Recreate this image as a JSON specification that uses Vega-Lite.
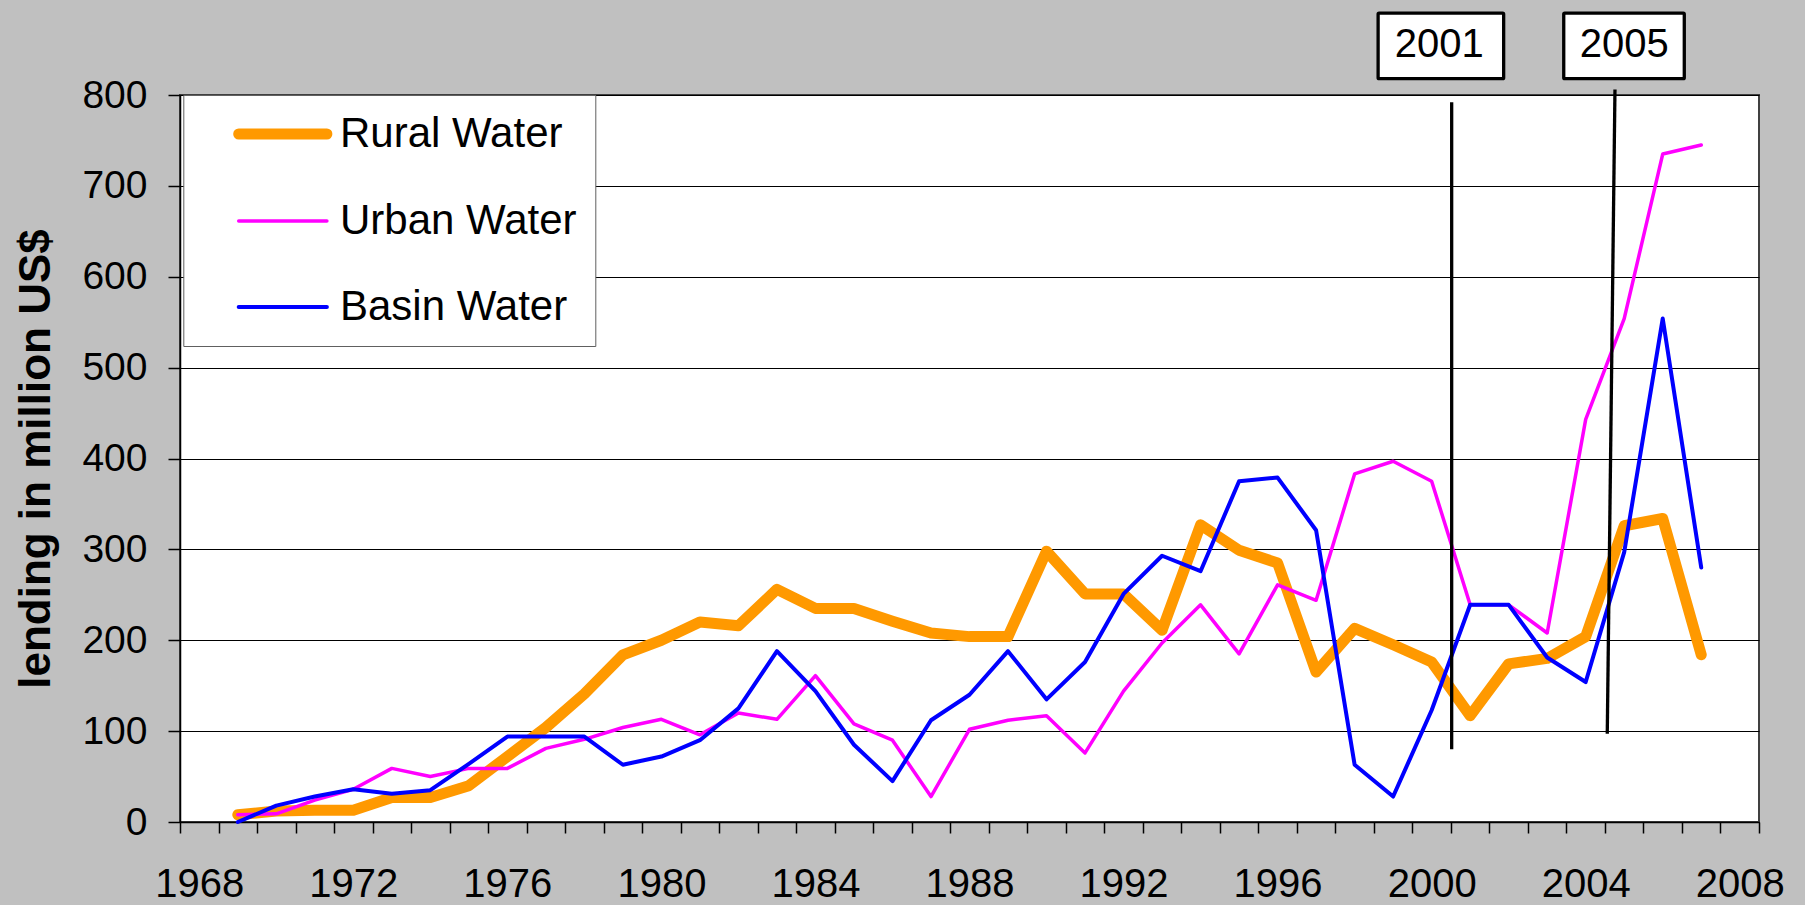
{
  "$schema": "https://vega.github.io/schema/vega-lite/v6.json",
  "width": 1579,
  "height": 727,
  "autosize": {"type": "none"},
  "padding": {"left": 180, "top": 95, "right": 46, "bottom": 83},
  "background": "#C0C0C0",
  "config": {
    "font": "Liberation Sans",
    "view": {"fill": "#FFFFFF", "stroke": "#404040", "strokeWidth": 2},
    "axis": {"labelColor": "#000000", "domainColor": "#000000", "tickColor": "#000000", "titleColor": "#000000"}
  },
  "datasets": {
    "lending": [
      {"year": 1969, "Rural Water": 8, "Urban Water": 8, "Basin Water": 0},
      {"year": 1970, "Rural Water": 12, "Urban Water": 9, "Basin Water": 18},
      {"year": 1971, "Rural Water": 13, "Urban Water": 24, "Basin Water": 28},
      {"year": 1972, "Rural Water": 13, "Urban Water": 36, "Basin Water": 36},
      {"year": 1973, "Rural Water": 27, "Urban Water": 59, "Basin Water": 31},
      {"year": 1974, "Rural Water": 27, "Urban Water": 50, "Basin Water": 35},
      {"year": 1975, "Rural Water": 40, "Urban Water": 59, "Basin Water": 64},
      {"year": 1976, "Rural Water": 72, "Urban Water": 59, "Basin Water": 94},
      {"year": 1977, "Rural Water": 104, "Urban Water": 81, "Basin Water": 94},
      {"year": 1978, "Rural Water": 141, "Urban Water": 91, "Basin Water": 94},
      {"year": 1979, "Rural Water": 184, "Urban Water": 104, "Basin Water": 63},
      {"year": 1980, "Rural Water": 200, "Urban Water": 113, "Basin Water": 72},
      {"year": 1981, "Rural Water": 220, "Urban Water": 96, "Basin Water": 90},
      {"year": 1982, "Rural Water": 216, "Urban Water": 120, "Basin Water": 125},
      {"year": 1983, "Rural Water": 256, "Urban Water": 113, "Basin Water": 188},
      {"year": 1984, "Rural Water": 235, "Urban Water": 161, "Basin Water": 144},
      {"year": 1985, "Rural Water": 235, "Urban Water": 108, "Basin Water": 85},
      {"year": 1986, "Rural Water": 221, "Urban Water": 90, "Basin Water": 45},
      {"year": 1987, "Rural Water": 208, "Urban Water": 28, "Basin Water": 112},
      {"year": 1988, "Rural Water": 204, "Urban Water": 102, "Basin Water": 140},
      {"year": 1989, "Rural Water": 204, "Urban Water": 112, "Basin Water": 188},
      {"year": 1990, "Rural Water": 298, "Urban Water": 117, "Basin Water": 135},
      {"year": 1991, "Rural Water": 251, "Urban Water": 76, "Basin Water": 176},
      {"year": 1992, "Rural Water": 251, "Urban Water": 144, "Basin Water": 251},
      {"year": 1993, "Rural Water": 211, "Urban Water": 197, "Basin Water": 293},
      {"year": 1994, "Rural Water": 327, "Urban Water": 239, "Basin Water": 276},
      {"year": 1995, "Rural Water": 299, "Urban Water": 185, "Basin Water": 375},
      {"year": 1996, "Rural Water": 285, "Urban Water": 261, "Basin Water": 379},
      {"year": 1997, "Rural Water": 165, "Urban Water": 244, "Basin Water": 321},
      {"year": 1998, "Rural Water": 213, "Urban Water": 383, "Basin Water": 63},
      {"year": 1999, "Rural Water": 195, "Urban Water": 397, "Basin Water": 28},
      {"year": 2000, "Rural Water": 176, "Urban Water": 375, "Basin Water": 123},
      {"year": 2001, "Rural Water": 117, "Urban Water": 239, "Basin Water": 239},
      {"year": 2002, "Rural Water": 174, "Urban Water": 239, "Basin Water": 239},
      {"year": 2003, "Rural Water": 180, "Urban Water": 208, "Basin Water": 181},
      {"year": 2004, "Rural Water": 204, "Urban Water": 443, "Basin Water": 154},
      {"year": 2005, "Rural Water": 326, "Urban Water": 554, "Basin Water": 297},
      {"year": 2006, "Rural Water": 334, "Urban Water": 735, "Basin Water": 554},
      {"year": 2007, "Rural Water": 184, "Urban Water": 745, "Basin Water": 280}
    ],
    "markers": [
      {"label": "2001", "year": 2000.52, "value": 80, "year2": 2000.52, "value2": 792},
      {"label": "2005", "year": 2004.56, "value": 97, "year2": 2004.76, "value2": 806}
    ],
    "boxes": [
      {"label": "2001", "year": 1998.61, "year2": 2001.87, "value": 818, "value2": 890},
      {"label": "2005", "year": 2003.43, "year2": 2006.56, "value": 818, "value2": 890}
    ],
    "boxlabels": [
      {"label": "2001", "year": 2000.2, "value": 855},
      {"label": "2005", "year": 2005.0, "value": 855}
    ]
  },
  "encoding": {
    "y": {
      "field": "value",
      "type": "quantitative",
      "scale": {"domain": [0, 800], "nice": false},
      "axis": {
        "title": "lending in million US$",
        "values": [0, 100, 200, 300, 400, 500, 600, 700, 800],
        "titleFont": "Liberation Sans",
        "titleFontWeight": "bold",
        "titleFontSize": 44,
        "titleAngle": -90,
        "titleAlign": "center",
        "titleBaseline": "middle",
        "titleX": -144,
        "titleY": 363.5,
        "labelFont": "Liberation Sans",
        "labelFontSize": 39,
        "labelPadding": 21,
        "tickSize": 12,
        "tickWidth": 1.5,
        "domainWidth": 1.5,
        "grid": true,
        "gridColor": "#000000",
        "gridWidth": 1
      }
    }
  },
  "layer": [
    {
      "data": {"name": "lending"},
      "transform": [{"fold": ["Rural Water", "Urban Water", "Basin Water"], "as": ["series", "value"]}],
      "mark": {"type": "line", "strokeCap": "round", "strokeJoin": "round"},
      "encoding": {
        "x": {
          "field": "year",
          "type": "ordinal",
          "bandPosition": 0.5,
          "scale": {
            "type": "band",
            "domain": [1968, 1969, 1970, 1971, 1972, 1973, 1974, 1975, 1976, 1977, 1978, 1979, 1980, 1981, 1982, 1983, 1984, 1985, 1986, 1987, 1988, 1989, 1990, 1991, 1992, 1993, 1994, 1995, 1996, 1997, 1998, 1999, 2000, 2001, 2002, 2003, 2004, 2005, 2006, 2007, 2008],
            "paddingInner": 0,
            "paddingOuter": 0
          },
          "axis": {
            "title": null,
            "labelExpr": "datum.value % 4 == 0 ? datum.label : ''",
            "labelAngle": 0,
            "labelOverlap": false,
            "labelBound": false,
            "labelFont": "Liberation Sans",
            "labelFontSize": 40,
            "labelPadding": 31,
            "tickBand": "extent",
            "tickSize": 11,
            "tickWidth": 1.5,
            "domainWidth": 1.5,
            "grid": false
          }
        },
        "color": {
          "field": "series",
          "type": "nominal",
          "scale": {"domain": ["Rural Water", "Urban Water", "Basin Water"], "range": ["#FF9900", "#FF00FF", "#0000FF"]},
          "legend": {
            "title": null,
            "orient": "none",
            "legendX": 3.3,
            "legendY": 0,
            "direction": "vertical",
            "padding": 18,
            "strokeColor": "#606060",
            "fillColor": "#FFFFFF",
            "labelFont": "Liberation Sans",
            "labelFontSize": 42,
            "labelColor": "#000000",
            "labelLimit": 600,
            "labelOffset": 36.2,
            "symbolOffset": 60.5,
            "symbolSize": 784,
            "symbolType": "M-3.15,0H3.15",
            "rowPadding": 44,
            "zindex": 1,
            "encode": {
              "symbols": {
                "update": {
                  "strokeCap": {"value": "round"},
                  "strokeWidth": {"signal": "datum.value === 'Rural Water' ? 11 : datum.value === 'Urban Water' ? 3.5 : 4"}
                }
              }
            }
          }
        },
        "strokeWidth": {
          "condition": [
            {"test": "datum.series === 'Rural Water'", "value": 11},
            {"test": "datum.series === 'Urban Water'", "value": 3.5}
          ],
          "value": 4
        }
      }
    },
    {
      "data": {"name": "markers"},
      "mark": {"type": "rule", "color": "#000000", "strokeWidth": 3.3},
      "encoding": {
        "x": {"field": "year", "type": "quantitative", "scale": {"domain": [1967.5, 2008.5], "nice": false, "zero": false}, "axis": null},
        "x2": {"field": "year2"},
        "y2": {"field": "value2"}
      }
    },
    {
      "data": {"name": "boxes"},
      "mark": {"type": "rect", "fill": "#FFFFFF", "stroke": "#000000", "strokeWidth": 3.3, "cornerRadius": 1},
      "encoding": {
        "x": {"field": "year", "type": "quantitative", "scale": {"domain": [1967.5, 2008.5], "nice": false, "zero": false}, "axis": null},
        "x2": {"field": "year2"},
        "y2": {"field": "value2"}
      }
    },
    {
      "data": {"name": "boxlabels"},
      "mark": {"type": "text", "font": "Liberation Sans", "fontSize": 40, "color": "#000000", "align": "center", "baseline": "middle"},
      "encoding": {
        "x": {"field": "year", "type": "quantitative", "scale": {"domain": [1967.5, 2008.5], "nice": false, "zero": false}, "axis": null},
        "text": {"field": "label"}
      }
    }
  ],
  "resolve": {"scale": {"x": "independent"}}
}
